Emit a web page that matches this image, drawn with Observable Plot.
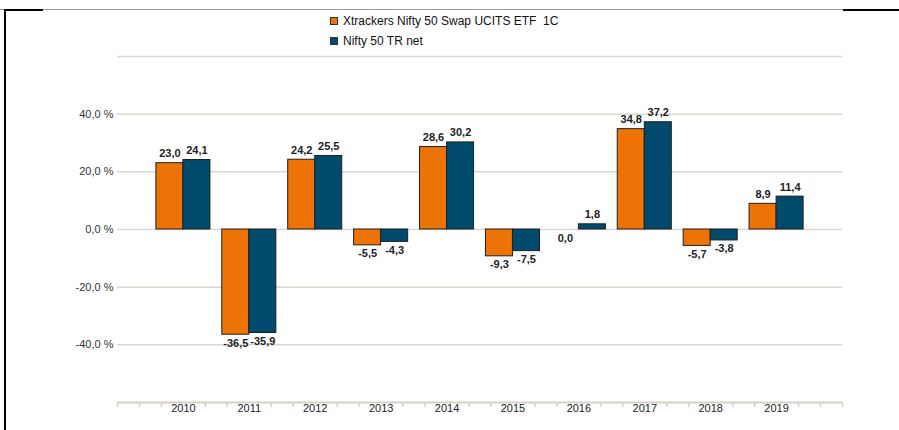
<!DOCTYPE html>
<html>
<head>
<meta charset="utf-8">
<script src="https://cdn.jsdelivr.net/npm/d3@7"></script>
<script src="https://cdn.jsdelivr.net/npm/@observablehq/plot@0.6"></script>
<style>
  html, body { margin: 0; padding: 0; background: #fff; }
  #wrap { position: relative; width: 899px; height: 430px; overflow: hidden; font-family: "Liberation Sans", Arial, sans-serif; }
  #legend { position: relative; height: 50px; }
  .lg-row { position: absolute; left: 330px; display: flex; align-items: center; font-size: 12px; color: #111; white-space: pre; }
  .lg-sw { width: 8px; height: 8px; border: 1px solid #333; margin-right: 5px; box-sizing: border-box; }
  .deco { position: absolute; }
</style>
</head>
<body>
<div id="wrap">
  <div id="legend"></div>
  <div id="chart"></div>
  <div class="deco" style="left:0;top:9px;width:899px;height:1px;background:#9a9a9a"></div>
  <div class="deco" style="left:4px;top:9px;width:39px;height:2px;background:#000"></div>
  <div class="deco" style="left:843px;top:9px;width:56px;height:2px;background:#000"></div>
  <div class="deco" style="left:4px;top:9px;width:2px;height:421px;background:#000"></div>
</div>
<script>
const years = [2010, 2011, 2012, 2013, 2014, 2015, 2016, 2017, 2018, 2019];
const seriesNames = ["Xtrackers Nifty 50 Swap UCITS ETF  1C", "Nifty 50 TR net"];
const etfValues = [23.0, -36.5, 24.2, -5.5, 28.6, -9.3, 0.0, 34.8, -5.7, 8.9];
const indexValues = [24.1, -35.9, 25.5, -4.3, 30.2, -7.5, 1.8, 37.2, -3.8, 11.4];
const colors = ["#ed7306", "#004a6d"];
const yTicks = [-40, -20, 0, 20, 40];
const gridValues = [-40, -20, 0, 20, 40, 60];

const barW = 0.41;
const rows = [];
years.forEach((yr, i) => {
  rows.push({year: yr, series: 0, value: etfValues[i]});
  rows.push({year: yr, series: 1, value: indexValues[i]});
});
const fmtNum = v => v.toFixed(1).replace(".", ",");
const fmtPct = v => v.toFixed(1).replace(".", ",") + " %";
const minorTicks = d3.range(0, 34).filter(i => i % 3 !== 0 || i === 0 || i === 33).map(i => 2009 + i / 3);

// Legend
const legend = document.getElementById("legend");
seriesNames.forEach((name, i) => {
  const row = document.createElement("div");
  row.className = "lg-row";
  row.style.top = (i === 0 ? 14 : 34) + "px";
  const sw = document.createElement("div");
  sw.className = "lg-sw";
  sw.style.background = colors[i];
  const t = document.createElement("span");
  t.textContent = name;
  row.appendChild(sw);
  row.appendChild(t);
  legend.appendChild(row);
});

const chart = Plot.plot({
  width: 899,
  height: 380,
  marginTop: 6,
  marginBottom: 28,
  marginLeft: 117,
  marginRight: 57,
  x: {type: "linear", domain: [2009, 2020]},
  y: {domain: [-60, 60]},
  style: {fontFamily: "'Liberation Sans', Arial, sans-serif", fontSize: "11px", color: "#222", background: "transparent"},
  marks: [
    Plot.ruleY(gridValues, {stroke: "#dcd8d0", strokeWidth: 1.5}),
    Plot.ruleY([-60], {stroke: "#d6d1c7", strokeWidth: 2}),
    Plot.axisX(minorTicks, {tickSize: 5, tickFormat: () => "", stroke: "#d6d1c7", strokeWidth: 1.5, label: null}),
    Plot.axisX(years, {tickSize: 0, tickPadding: 2, tickFormat: d => String(d), label: null, fill: "#222"}),
    Plot.axisY(yTicks, {tickSize: 0, tickPadding: 4, tickFormat: fmtPct, label: null, fill: "#333"}),
    Plot.rect(rows, {
      x1: d => d.series === 0 ? d.year - barW : d.year,
      x2: d => d.series === 0 ? d.year : d.year + barW,
      y1: 0,
      y2: "value",
      fill: d => colors[d.series],
      stroke: "#1f1f1f",
      strokeWidth: 1
    }),
    Plot.text(rows.filter(d => d.value > 0), {
      x: d => d.year + (d.series === 0 ? -barW / 2 : barW / 2),
      y: "value",
      text: d => fmtNum(d.value),
      dy: -9.5,
      fontWeight: "bold",
      fill: "#222"
    }),
    Plot.text(rows.filter(d => d.value <= 0), {
      x: d => d.year + (d.series === 0 ? -barW / 2 : barW / 2),
      y: "value",
      text: d => fmtNum(d.value),
      dy: 8.5,
      fontWeight: "bold",
      fill: "#222"
    })
  ]
});
document.getElementById("chart").appendChild(chart);
</script>
</body>
</html>
